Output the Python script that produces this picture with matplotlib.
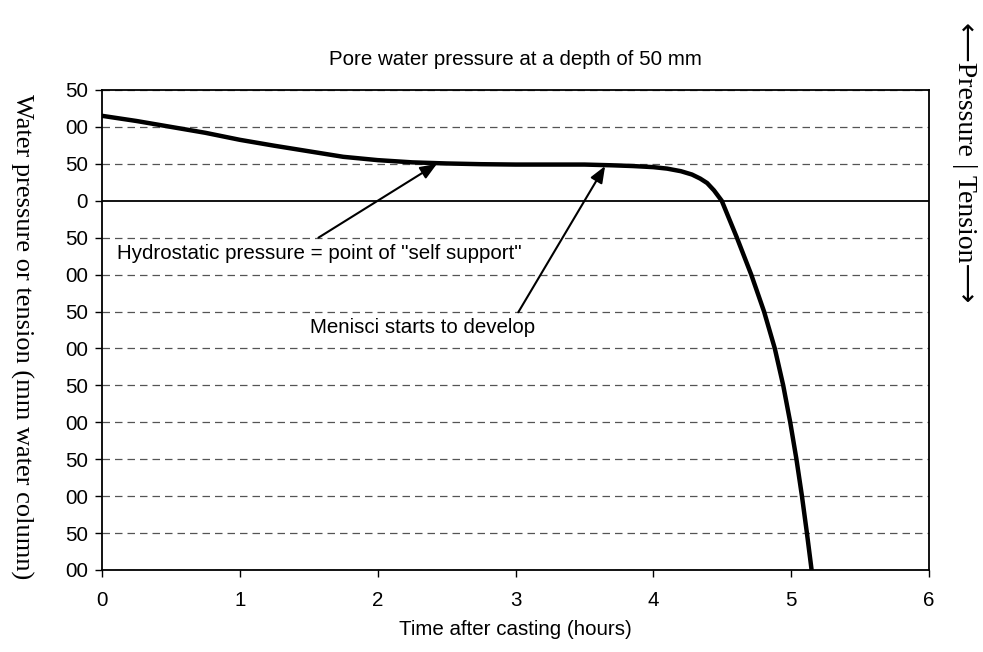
import numpy as np
import matplotlib.pyplot as plt

# pore water pressure curve (mm water column)
hours = [0.0, 0.25, 0.5, 0.75, 1.0, 1.25, 1.5, 1.75, 2.0, 2.25, 2.5, 2.75, 3.0,
         3.5, 3.7, 3.85, 4.0, 4.1, 4.2, 4.28, 4.34, 4.39, 4.44, 4.496,
         4.606, 4.710, 4.803, 4.881, 4.942, 4.993, 5.038, 5.078, 5.114, 5.148]
pressure = [115, 108, 100, 92, 82.5, 74.5, 67, 59.5, 55, 52, 50.5, 49.5, 49,
            49, 48, 47, 45.5, 43.5, 40, 35.5, 30, 24, 14, 0,
            -50, -100, -150, -200, -250, -300, -350, -400, -450, -500]

yticks = [150, 100, 50, 0, -50, -100, -150, -200, -250, -300, -350, -400, -450, -500]
ytick_labels = ['50', '00', '50', '0', '50', '00', '50', '00', '50', '00', '50', '00', '50', '00']
xticks = [0, 1, 2, 3, 4, 5, 6]

# annotations: text, text position, arrow start, arrow tip
notes = ['Hydrostatic pressure = point of "self support"', 'Menisci starts to develop']
note_pos = [(0.11, -71), (1.51, -172)]
arrow_from = [(1.57, -50), (3.02, -151)]
arrow_to = [(2.43, 50), (3.65, 47)]

fs = 14.8
sans = 'Liberation Sans'

fig = plt.figure(figsize=(9.83, 6.52), dpi=100)
ax = fig.add_axes([0.1038, 0.1258, 0.8413, 0.7362])

for y in yticks:
    if y == 0:
        ax.axhline(y, color='black', lw=1.3, zorder=1)
    else:
        ax.axhline(y, color='#555555', lw=0.9, dashes=(6, 4), zorder=1)

ax.plot(hours, pressure, color='black', lw=3.2, zorder=3, solid_joinstyle='round')

for txt, pos, a, b in zip(notes, note_pos, arrow_from, arrow_to):
    ax.annotate('', xy=b, xytext=a,
                arrowprops=dict(arrowstyle='-|>,head_length=1.0,head_width=0.4',
                                color='black', lw=1.5, shrinkA=0, shrinkB=0))
    ax.text(pos[0], pos[1], txt, fontsize=fs, family=sans, va='center', ha='left')

ax.set_xlim(0, 6)
ax.set_ylim(-500, 150)
ax.set_xticks(xticks)
ax.set_xticklabels([str(x) for x in xticks], family=sans, fontsize=fs)
ax.set_yticks(yticks)
ax.set_yticklabels(ytick_labels, family=sans, fontsize=fs)
ax.tick_params(direction='out', length=5, width=1, color='black')
ax.tick_params(axis='x', pad=10)
ax.tick_params(axis='y', pad=5)
for s in ax.spines.values():
    s.set_linewidth(1.3)
    s.set_color('black')

ax.set_title('Pore water pressure at a depth of 50 mm', family=sans, fontsize=fs, pad=18)
ax.set_xlabel('Time after casting (hours)', family=sans, fontsize=fs, labelpad=7)

fig.text(0.022, 0.484, 'Water pressure or tension (mm water column)', rotation=270,
         family='Liberation Serif', fontsize=19, ha='center', va='center')
fig.text(0.981, 0.752, '\u27f5Pressure | Tension\u27f6', rotation=270,
         family=['Liberation Serif', 'DejaVu Sans'], fontsize=20, ha='center', va='center')

fig.savefig('out.png', dpi=100)
